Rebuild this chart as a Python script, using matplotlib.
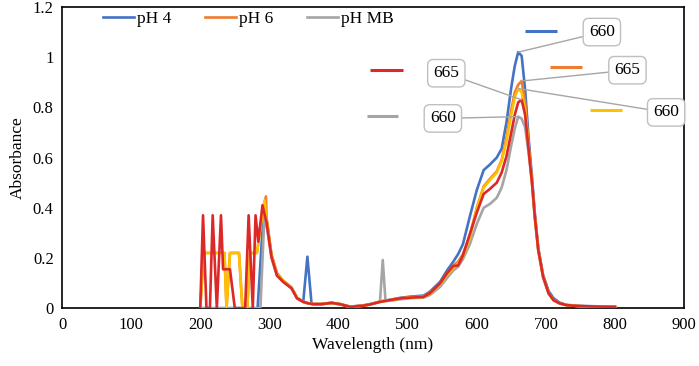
import numpy as np
import matplotlib
matplotlib.use('Agg')
import matplotlib.pyplot as plt

plt.rcParams['font.family'] = ['Liberation Serif', 'DejaVu Serif']

# # # # # # # # # # # # # # # #
#            Data             #
# # # # # # # # # # # # # # # #

# shared wavelength grid for the region 296-800 nm
wl_common = [296, 303, 311, 320, 332, 340, 349, 355, 361, 364, 375, 390, 402,
             417, 436, 446, 460, 464, 468, 489, 504, 523, 532, 547, 557, 566,
             573, 580, 590, 600, 610, 619, 629, 636, 643, 650, 655, 660, 665,
             670, 675, 680, 684, 689, 696, 704, 711, 720, 730, 750, 764, 800]

# UV part (200-295 nm), different for each sample
ph4_uv_wl = [200, 283, 292]
ph4_uv = [0, 0, 0.40]
ph6_uv_wl = [200, 205, 222, 235, 238, 243, 256, 261, 268, 272, 282, 288, 295]
ph6_uv = [0, 0.22, 0.22, 0.22, 0, 0.22, 0.22, 0, 0, 0.22, 0.22, 0.34, 0.445]
mb_uv_wl = [200, 287, 293]
mb_uv = [0, 0, 0.38]
yel_uv_wl = [200, 205, 222, 235, 238, 243, 256, 261, 268, 272, 282, 288, 293]
yel_uv = [0, 0.22, 0.22, 0.22, 0, 0.22, 0.22, 0, 0, 0.22, 0.22, 0.34, 0.43]
red_uv_wl = [200, 204, 209, 214, 218, 224, 230, 233, 243, 250, 265, 270, 276,
             280, 284, 290]
red_uv = [0, 0.37, 0, 0, 0.37, 0, 0.37, 0.155, 0.155, 0, 0, 0.37, 0, 0.37,
          0.265, 0.41]

ph4_vis = [0.35, 0.21, 0.135, 0.108, 0.082, 0.042, 0.025, 0.205, 0.018,
           0.016, 0.016, 0.021, 0.016, 0.006, 0.011, 0.016, 0.026, 0.028,
           0.030, 0.041, 0.046, 0.050, 0.065, 0.105, 0.150, 0.185, 0.215,
           0.255, 0.365, 0.470, 0.550, 0.572, 0.600, 0.635, 0.740, 0.880,
           0.965, 1.020, 1.005, 0.870, 0.680, 0.520, 0.380, 0.240, 0.132,
           0.068, 0.040, 0.022, 0.013, 0.009, 0.008, 0.006]
ph6_vis = [0.36, 0.215, 0.14, 0.11, 0.083, 0.042, 0.026, 0.021, 0.018,
           0.017, 0.017, 0.022, 0.017, 0.006, 0.011, 0.016, 0.026, 0.028,
           0.030, 0.040, 0.044, 0.047, 0.060, 0.098, 0.138, 0.170, 0.185,
           0.215, 0.290, 0.400, 0.485, 0.515, 0.545, 0.590, 0.680, 0.790,
           0.860, 0.890, 0.905, 0.820, 0.650, 0.505, 0.370, 0.235, 0.127,
           0.060, 0.033, 0.019, 0.012, 0.008, 0.007, 0.005]
mb_vis = [0.33, 0.20, 0.13, 0.105, 0.08, 0.04, 0.025, 0.02, 0.017, 0.016,
          0.016, 0.020, 0.015, 0.005, 0.010, 0.015, 0.025, 0.192, 0.028,
          0.035, 0.040, 0.042, 0.052, 0.085, 0.120, 0.150, 0.165, 0.195,
          0.255, 0.335, 0.400, 0.415, 0.440, 0.480, 0.550, 0.650, 0.715,
          0.763, 0.755, 0.720, 0.620, 0.495, 0.360, 0.230, 0.123, 0.058,
          0.032, 0.019, 0.012, 0.008, 0.007, 0.005]
yel_vis = [0.35, 0.21, 0.135, 0.108, 0.081, 0.041, 0.025, 0.02, 0.017,
           0.016, 0.016, 0.021, 0.016, 0.005, 0.010, 0.015, 0.025, 0.027,
           0.029, 0.038, 0.042, 0.045, 0.057, 0.095, 0.132, 0.160, 0.178,
           0.205, 0.280, 0.395, 0.480, 0.510, 0.540, 0.585, 0.665, 0.770,
           0.840, 0.875, 0.860, 0.790, 0.640, 0.500, 0.365, 0.232, 0.125,
           0.059, 0.032, 0.019, 0.012, 0.008, 0.007, 0.005]
red_vis = [0.34, 0.205, 0.13, 0.105, 0.079, 0.039, 0.025, 0.02, 0.017,
           0.016, 0.016, 0.021, 0.016, 0.005, 0.010, 0.015, 0.025, 0.027,
           0.029, 0.039, 0.042, 0.045, 0.059, 0.099, 0.139, 0.168, 0.170,
           0.210, 0.295, 0.380, 0.455, 0.475, 0.500, 0.540, 0.605, 0.700,
           0.770, 0.820, 0.830, 0.770, 0.632, 0.499, 0.365, 0.232, 0.125,
           0.059, 0.032, 0.019, 0.012, 0.008, 0.007, 0.005]

x_ticks = [0, 100, 200, 300, 400, 500, 600, 700, 800, 900]
y_ticks = [0, 0.2, 0.4, 0.6, 0.8, 1, 1.2]
y_tick_labels = ['0', '0.2', '0.4', '0.6', '0.8', '1', '1.2']

# (name, colour, uv wl, uv abs, vis abs)
series = [
    ('pH 4', '#4472C4', ph4_uv_wl, ph4_uv, ph4_vis),
    ('pH 6', '#ED7D31', ph6_uv_wl, ph6_uv, ph6_vis),
    ('pH MB', '#A5A5A5', mb_uv_wl, mb_uv, mb_vis),
    ('_yel', '#FFC000', yel_uv_wl, yel_uv, yel_vis),
    ('_red', '#DC2828', red_uv_wl, red_uv, red_vis),
]

# peak label boxes and their key lines (data coordinates), same order
label_box = [(781, 1.10), (818, 0.948), (551, 0.756), (874, 0.78), (556, 0.936)]
key_line = [(670, 716, 1.104), (706, 752, 0.96), (441, 486, 0.764),
            (764, 810, 0.788), (446, 493, 0.948)]

# # # # # # # # # # # # # # # #
#            Chart            #
# # # # # # # # # # # # # # # #

fig = plt.figure(figsize=(6.99, 3.66), dpi=100)
ax = fig.add_axes([0.0887, 0.158, 0.89, 0.823])

wl_c = np.array(wl_common)
for i, (name, color, uwl, uab, vab) in enumerate(series):
    x = list(uwl) + wl_common
    y = list(uab) + vab
    ax.plot(x, y, color=color, linewidth=1.9, label=name, zorder=3 + i)

    # peak wavelength taken from the data itself
    vab = np.array(vab)
    mask = wl_c > 400
    k = np.argmax(vab[mask])
    pk_wl = wl_c[mask][k]
    pk_ab = vab[mask][k]

    bx, by = label_box[i]
    ax.annotate(str(pk_wl), xy=(pk_wl, pk_ab), xytext=(bx, by),
                ha='center', va='center', fontsize=12.5, zorder=10,
                bbox=dict(boxstyle='round,pad=0.33', fc='white',
                          ec='#BFBFBF', lw=1.0),
                arrowprops=dict(arrowstyle='-', color='#A6A6A6', lw=1.0,
                                shrinkA=0, shrinkB=0))
    x0, x1, ky = key_line[i]
    ax.plot([x0, x1], [ky, ky], color=color, linewidth=2.2, zorder=10,
            solid_capstyle='butt')

ax.set_xlim(0, 900)
ax.set_ylim(0, 1.2)
ax.set_xticks(x_ticks)
ax.set_yticks(y_ticks)
ax.set_yticklabels(y_tick_labels)
ax.tick_params(length=0, labelsize=12, pad=6)
for sp in ax.spines.values():
    sp.set_linewidth(1.2)
    sp.set_color('black')

ax.set_xlabel('Wavelength (nm)', fontsize=12.5, labelpad=3)
ax.set_ylabel('Absorbance', fontsize=12.5, labelpad=5)

ax.legend(loc='upper left', bbox_to_anchor=(0.04, 1.04), ncol=3,
          frameon=False, fontsize=12.5, handlelength=1.8,
          columnspacing=1.9, handletextpad=0.2)

plt.savefig('out.png', dpi=100)
